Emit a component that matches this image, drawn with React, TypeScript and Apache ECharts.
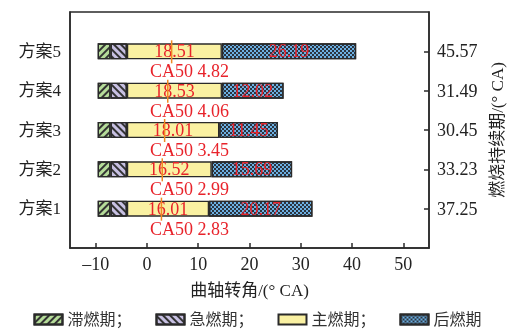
import React, { useEffect, useRef } from "react";
import * as echarts from "echarts";

// Combustion phases per scheme, in crank angle degrees
const plans = ["方案1", "方案2", "方案3", "方案4", "方案5"];
const startAngle = [-9.6, -9.6, -9.6, -9.6, -9.6];
const delayPhase = [2.5, 2.5, 2.5, 2.5, 2.5];
const rapidPhase = [3.2, 3.2, 3.2, 3.2, 3.2];
const mainPhase = [16.01, 16.52, 18.01, 18.53, 18.51];
const afterPhase = [20.17, 15.69, 11.45, 12.02, 26.19];
const ca50 = [2.83, 2.99, 3.45, 4.06, 4.82];
const durations = ["37.25", "33.23", "30.45", "31.49", "45.57"];
const xTicks = [-10, 0, 10, 20, 30, 40, 50];
const phaseNames = ["滞燃期；", "急燃期；", "主燃期；", "后燃期"];

const FONT = '"Liberation Serif", "Noto Sans CJK SC", serif';
const RED = "#e8232b";
const INK = "#2a2a2a";

// empty slots above and below so the five bars sit one step in from the frame
const pad = <T,>(a: T[]) => ["", ...a, ""];
const padData = (a: number[]) => ["-", ...a, "-"];

export default function App() {
  const ref = useRef<HTMLDivElement>(null);

  useEffect(() => {
    if (!ref.current) return;
    const chart = echarts.init(ref.current, null, { renderer: "svg" });

    const segLabel = {
      show: true,
      position: "inside",
      color: RED,
      fontSize: 18,
      fontFamily: FONT,
      formatter: (p: any) => Number(p.value).toFixed(2),
    };

    const barBase = {
      type: "bar",
      stack: "phase",
      stackStrategy: "all",
      barWidth: 16,
      yAxisIndex: 0,
    };

    chart.setOption({
      animation: false,
      textStyle: { fontFamily: FONT },
      grid: {
        left: 70,
        right: 86,
        top: 12,
        bottom: 81,
        show: true,
        borderColor: INK,
        borderWidth: 1.5,
        backgroundColor: "transparent",
      },
      legend: {
        data: phaseNames,
        top: 311,
        left: "center",
        padding: 0,
        icon: "rect",
        itemWidth: 28,
        itemHeight: 10,
        itemGap: 24,
        textStyle: { fontSize: 16, color: "#333", fontFamily: FONT, lineHeight: 17 },
      },
      xAxis: {
        type: "value",
        min: -15,
        max: 55,
        splitLine: { show: false },
        axisLine: { show: true, lineStyle: { color: INK, width: 1.5 } },
        axisTick: {
          show: true,
          inside: true,
          length: 5,
          customValues: xTicks,
          lineStyle: { color: INK, width: 1.5 },
        },
        axisLabel: {
          customValues: xTicks,
          fontSize: 18,
          color: "#222",
          margin: 7,
          formatter: (v: number) => (v < 0 ? "\u2013" + Math.abs(v) : String(v)),
        },
        name: "曲轴转角/(° CA)",
        nameLocation: "middle",
        nameGap: 34,
        nameTextStyle: { fontSize: 17, color: "#222", fontFamily: FONT },
      },
      yAxis: [
        {
          type: "category",
          data: pad(plans),
          boundaryGap: false,
          axisLine: { show: true, onZero: false, lineStyle: { color: INK, width: 1.5 } },
          axisTick: { show: false },
          axisLabel: { fontSize: 17, color: "#222", margin: 9 },
          splitLine: { show: false },
        },
        {
          type: "category",
          position: "right",
          data: pad(durations),
          boundaryGap: false,
          axisLine: { show: true, onZero: false, lineStyle: { color: INK, width: 1.5 } },
          axisTick: {
            show: true,
            inside: true,
            length: 5,
            interval: (_i: number, v: string) => v !== "",
            lineStyle: { color: INK, width: 1.5 },
          },
          axisLabel: { fontSize: 18, color: "#222", margin: 8 },
          splitLine: { show: false },
          name: "燃烧持续期/(° CA)",
          nameLocation: "middle",
          nameRotate: 90,
          nameGap: 60,
          nameTextStyle: { fontSize: 17, color: "#222", fontFamily: FONT },
        },
      ],
      series: [
        {
          ...barBase,
          name: "start",
          data: padData(startAngle),
          silent: true,
          itemStyle: { color: "transparent" },
        },
        {
          ...barBase,
          name: phaseNames[0],
          data: padData(delayPhase),
          itemStyle: {
            color: "#b5dc99",
            borderColor: INK,
            borderWidth: 1.3,
            decal: {
              symbol: "rect",
              symbolSize: 1,
              color: "#333",
              dashArrayX: [1, 0],
              dashArrayY: [1.5, 3],
              rotation: -Math.PI / 4,
            },
          },
        },
        {
          ...barBase,
          name: phaseNames[1],
          data: padData(rapidPhase),
          itemStyle: {
            color: "#c7c0e2",
            borderColor: INK,
            borderWidth: 1.3,
            decal: {
              symbol: "rect",
              symbolSize: 1,
              color: "#333",
              dashArrayX: [1, 0],
              dashArrayY: [1.5, 3],
              rotation: Math.PI / 4,
            },
          },
        },
        {
          ...barBase,
          name: phaseNames[2],
          data: padData(mainPhase),
          itemStyle: { color: "#faf1a2", borderColor: INK, borderWidth: 1.3 },
          label: segLabel,
        },
        {
          ...barBase,
          name: phaseNames[3],
          data: padData(afterPhase),
          itemStyle: {
            color: "#6cb0e2",
            borderColor: INK,
            borderWidth: 1.3,
            decal: {
              symbol: "rect",
              symbolSize: 1,
              color: "#2b3440",
              dashArrayX: [
                [2, 2],
                [0, 2, 2, 0],
              ],
              dashArrayY: [2, 0],
              rotation: 0,
            },
          },
          label: segLabel,
        },
        {
          type: "custom",
          name: "CA50",
          yAxisIndex: 0,
          z: 10,
          data: ca50.map((v, i) => [v, i + 1]),
          encode: { x: 0, y: 1 },
          renderItem: (_params: any, api: any) => {
            const c = api.coord([api.value(0), api.value(1)]);
            const t = api.coord([0.6, api.value(1)]);
            return {
              type: "group",
              children: [
                {
                  type: "line",
                  shape: { x1: c[0], y1: c[1] - 11, x2: c[0], y2: c[1] + 12 },
                  style: { stroke: "#f08a24", lineWidth: 1.5 },
                },
                {
                  type: "text",
                  x: t[0],
                  y: c[1] + 20,
                  style: {
                    text: "CA50 " + Number(api.value(0)).toFixed(2),
                    fill: RED,
                    fontSize: 18,
                    fontFamily: FONT,
                    align: "left",
                    verticalAlign: "middle",
                  },
                },
              ],
            };
          },
        },
      ],
    });

    return () => chart.dispose();
  }, []);

  return (
    <div
      ref={ref}
      style={{ position: "fixed", left: 0, top: 0, width: 515, height: 329 }}
    />
  );
}
